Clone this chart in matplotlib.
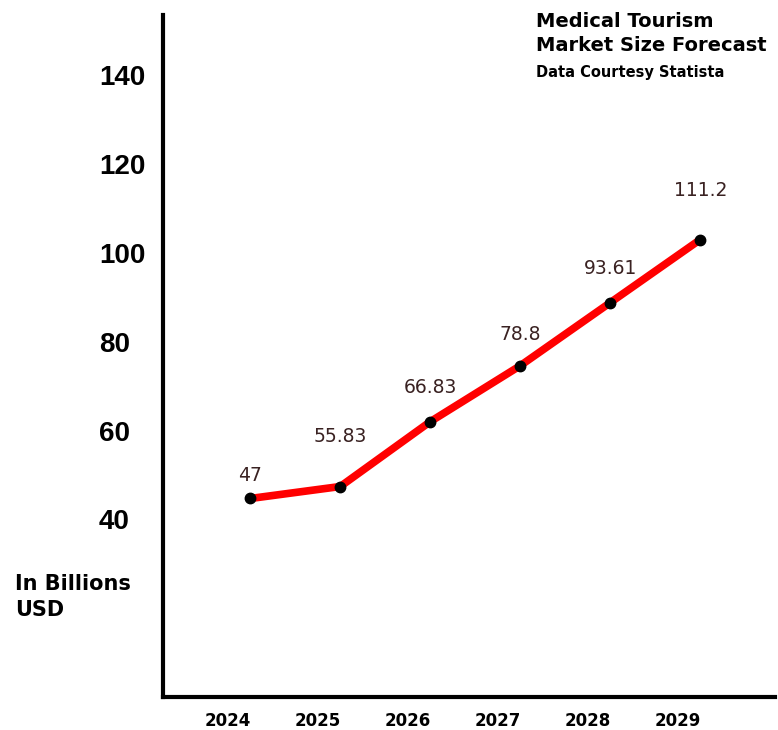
import matplotlib.pyplot as plt

plt.rcParams['font.family'] = ['DejaVu Sans']

# data
years = [2024, 2025, 2026, 2027, 2028, 2029]
plotted = [44.7, 47.4, 62.0, 74.6, 88.8, 103.0]   # where the dots sit
labels = ['47', '55.83', '66.83', '78.8', '93.61', '111.2']
yticks = [40, 60, 80, 100, 120, 140]

fig = plt.figure(figsize=(7.78, 7.3), dpi=100)
ax = fig.add_axes([0.2095, 0.0452, 0.7865, 0.9338])

xs = [y + 0.25 for y in years]
ax.plot(xs, plotted, color='red', lw=5.5, solid_capstyle='butt', zorder=2)
ax.plot(xs, plotted, 'o', color='black', ms=7.5, zorder=3)

for x, lab in zip(xs, labels):
    ax.annotate(lab, (x, float(lab)), xytext=(0, 2.5), textcoords='offset points',
                ha='center', va='bottom', fontsize=13.5, color='#3a2222')

ax.set_xlim(2023.28, 2030.08)
ax.set_ylim(0, 153.5)
ax.set_xticks(years)
ax.set_xticklabels([str(y) for y in years], fontsize=12, fontweight='bold')
ax.set_yticks(yticks)
ax.set_yticklabels([str(t) for t in yticks], fontsize=20, fontweight='bold',
                   ha='left', family='Liberation Sans')
ax.tick_params(axis='y', length=0, pad=46)
ax.tick_params(axis='x', length=0, pad=11)

for s in ['top', 'right']:
    ax.spines[s].set_visible(False)
for s in ['left', 'bottom']:
    ax.spines[s].set_linewidth(3)

fig.text(0.019, 0.182, 'In Billions\nUSD', fontsize=15, fontweight='bold',
         va='center', ha='left', linespacing=1.35)
fig.text(0.689, 0.954, 'Medical Tourism\nMarket Size Forecast', fontsize=14,
         fontweight='bold', va='center', ha='left', linespacing=1.38)
fig.text(0.689, 0.9, 'Data Courtesy Statista', fontsize=10.5, fontweight='bold',
         va='center', ha='left')

fig.savefig('out.png', dpi=100)
